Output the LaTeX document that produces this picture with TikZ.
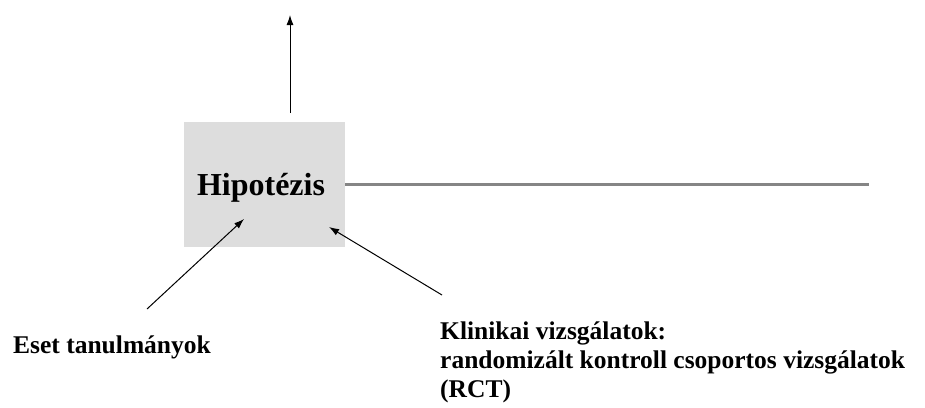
\documentclass[tikz,border=0pt]{standalone}
\usepackage{fontspec}
\setmainfont{Liberation Serif}
\usetikzlibrary{arrows.meta}
\definecolor{boxgray}{HTML}{DDDDDD}
\definecolor{linegray}{HTML}{858585}
\tikzset{
  hypbox/.style={fill=boxgray, draw=none, minimum width=161pt, minimum height=125pt, inner sep=0pt},
  thinarrow/.style={line width=1pt, -{Latex[length=10pt,width=7pt]}},
  label/.style={inner sep=0pt, font=\bfseries\fontsize{25.5}{29}\selectfont, align=left}
}
\begin{document}
\begin{tikzpicture}[x=1pt,y=-1pt]
\useasboundingbox (0,0) rectangle (925,407);
% box
\node[hypbox] (box) at (264.5,184.5) {};
\node[inner sep=0pt, anchor=base, font=\bfseries\fontsize{32}{36}\selectfont] (hyp) at (261,195) {Hipotézis};
% up arrow
\coordinate (upstart) at (290,113);
\coordinate (uptip) at (290,15);
\draw[thinarrow] (upstart) -- (uptip);
% horizontal gray line
\coordinate (hend) at (869,184);
\draw[linegray, line width=3pt] (box.east |- hend) -- (hend);
% labels
\node[label, anchor=base west] (eset) at (13,353) {Eset tanulmányok};
\node[label, anchor=base west] (klin) at (440,397) {Klinikai vizsgálatok:\\randomizált kontroll csoportos vizsgálatok\\(RCT)};
% arrows into box
\coordinate (ltail) at (147,309);
\coordinate (ltip) at (244,219);
\coordinate (rtail) at (442,295);
\coordinate (rtip) at (329,227);
\draw[thinarrow] (ltail) -- (ltip);
\draw[thinarrow] (rtail) -- (rtip);
\end{tikzpicture}
\end{document}
